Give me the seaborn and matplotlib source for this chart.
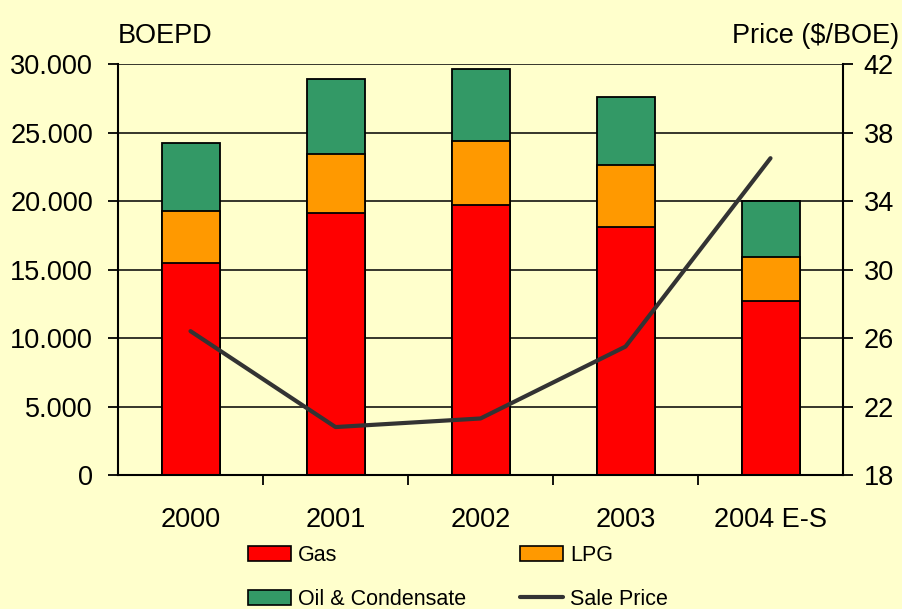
import matplotlib
matplotlib.use('Agg')
import matplotlib.pyplot as plt
import matplotlib.patches as mpatches
import matplotlib.lines as mlines
from matplotlib.ticker import FuncFormatter, FixedLocator
import numpy as np
import pandas as pd
import seaborn as sns

# data
years = ['2000', '2001', '2002', '2003', '2004 E-S']
gas = [15500, 19100, 19700, 18100, 12700]
lpg = [3800, 4300, 4700, 4500, 3200]
oil = [4900, 5500, 5200, 5000, 4100]
price = [26.4, 20.8, 21.3, 25.5, 36.5]

c_gas = '#FF0000'
c_lpg = '#FF9900'
c_oil = '#339966'
c_line = '#333333'
bg = '#FFFFCC'

sns.set_style('white')
plt.rcParams['font.family'] = ['Liberation Sans', 'DejaVu Sans']
plt.rcParams['text.color'] = 'black'

df = pd.DataFrame({'year': years, 'gas': gas, 'lpg': lpg, 'oil': oil})
df['gas_lpg'] = df['gas'] + df['lpg']
df['total'] = df['gas_lpg'] + df['oil']

fig = plt.figure(figsize=(9.02, 6.09), dpi=100, facecolor=bg)
ax = fig.add_axes([118 / 902, 1 - 475 / 609, (843 - 118) / 902, (475 - 64) / 609])
ax.set_facecolor(bg)

# stacked bars = overlaid cumulative totals
for col, c in [('total', c_oil), ('gas_lpg', c_lpg), ('gas', c_gas)]:
    sns.barplot(data=df, x='year', y=col, color=c, saturation=1, width=0.4,
                edgecolor='black', linewidth=1.3, ax=ax)

ax.set_xlim(-0.5, 4.5)
ax.set_ylim(0, 30000)
ax.set_yticks(np.arange(0, 30001, 5000))
ax.yaxis.set_major_formatter(FuncFormatter(lambda v, p: f'{int(v):,}'.replace(',', '.')))
ax.set_axisbelow(True)
ax.yaxis.grid(True, color='black', linewidth=1.1)
ax.set_xlabel('')
ax.set_ylabel('')
ax.xaxis.set_minor_locator(FixedLocator([0.5, 1.5, 2.5, 3.5]))
ax.tick_params(axis='x', which='major', length=0, pad=23, labelsize=19.5, colors='black')
ax.tick_params(axis='x', which='minor', length=7, width=1.3, direction='out', color='black', bottom=True)
ax.tick_params(axis='y', length=7, width=1.3, direction='out', pad=11, labelsize=19.5, colors='black', left=True)
for s in ['left', 'bottom']:
    ax.spines[s].set_color('black')
    ax.spines[s].set_linewidth(1.5)
ax.spines['top'].set_visible(False)
ax.spines['right'].set_visible(False)

ax2 = ax.twinx()
sns.lineplot(x=np.arange(len(years)), y=price, color=c_line, linewidth=3, ax=ax2)
ax2.set_ylim(18, 42)
ax2.set_yticks(np.arange(18, 43, 4))
ax2.set_xlim(-0.5, 4.5)
ax2.set_ylabel('')
ax2.tick_params(axis='y', length=7, width=1.3, direction='out', pad=8, labelsize=19.5, colors='black', right=True)
ax2.spines['right'].set_color('black')
ax2.spines['right'].set_linewidth(1.5)
for s in ['top', 'left', 'bottom']:
    ax2.spines[s].set_visible(False)

fig.text(118 / 902, 1 - 36 / 609, 'BOEPD', fontsize=19.5, ha='left', va='center')
fig.text(899 / 902, 1 - 36 / 609, 'Price ($/BOE)', fontsize=19.5, ha='right', va='center')

handles = [
    mpatches.Patch(facecolor=c_gas, edgecolor='black', linewidth=1.2, label='Gas'),
    mpatches.Patch(facecolor=c_oil, edgecolor='black', linewidth=1.2, label='Oil & Condensate'),
    mpatches.Patch(facecolor=c_lpg, edgecolor='black', linewidth=1.2, label='LPG'),
    mlines.Line2D([], [], color=c_line, linewidth=3, label='Sale Price'),
]
fig.legend(handles=handles, ncol=2, loc='upper left', bbox_to_anchor=(248 / 902, 1 - 545 / 609),
           frameon=False, fontsize=15.5, handlelength=2.0, handletextpad=0.33,
           columnspacing=2.5, labelspacing=1.05, borderpad=0, borderaxespad=0)

fig.savefig('out.png', dpi=100, facecolor=bg)
